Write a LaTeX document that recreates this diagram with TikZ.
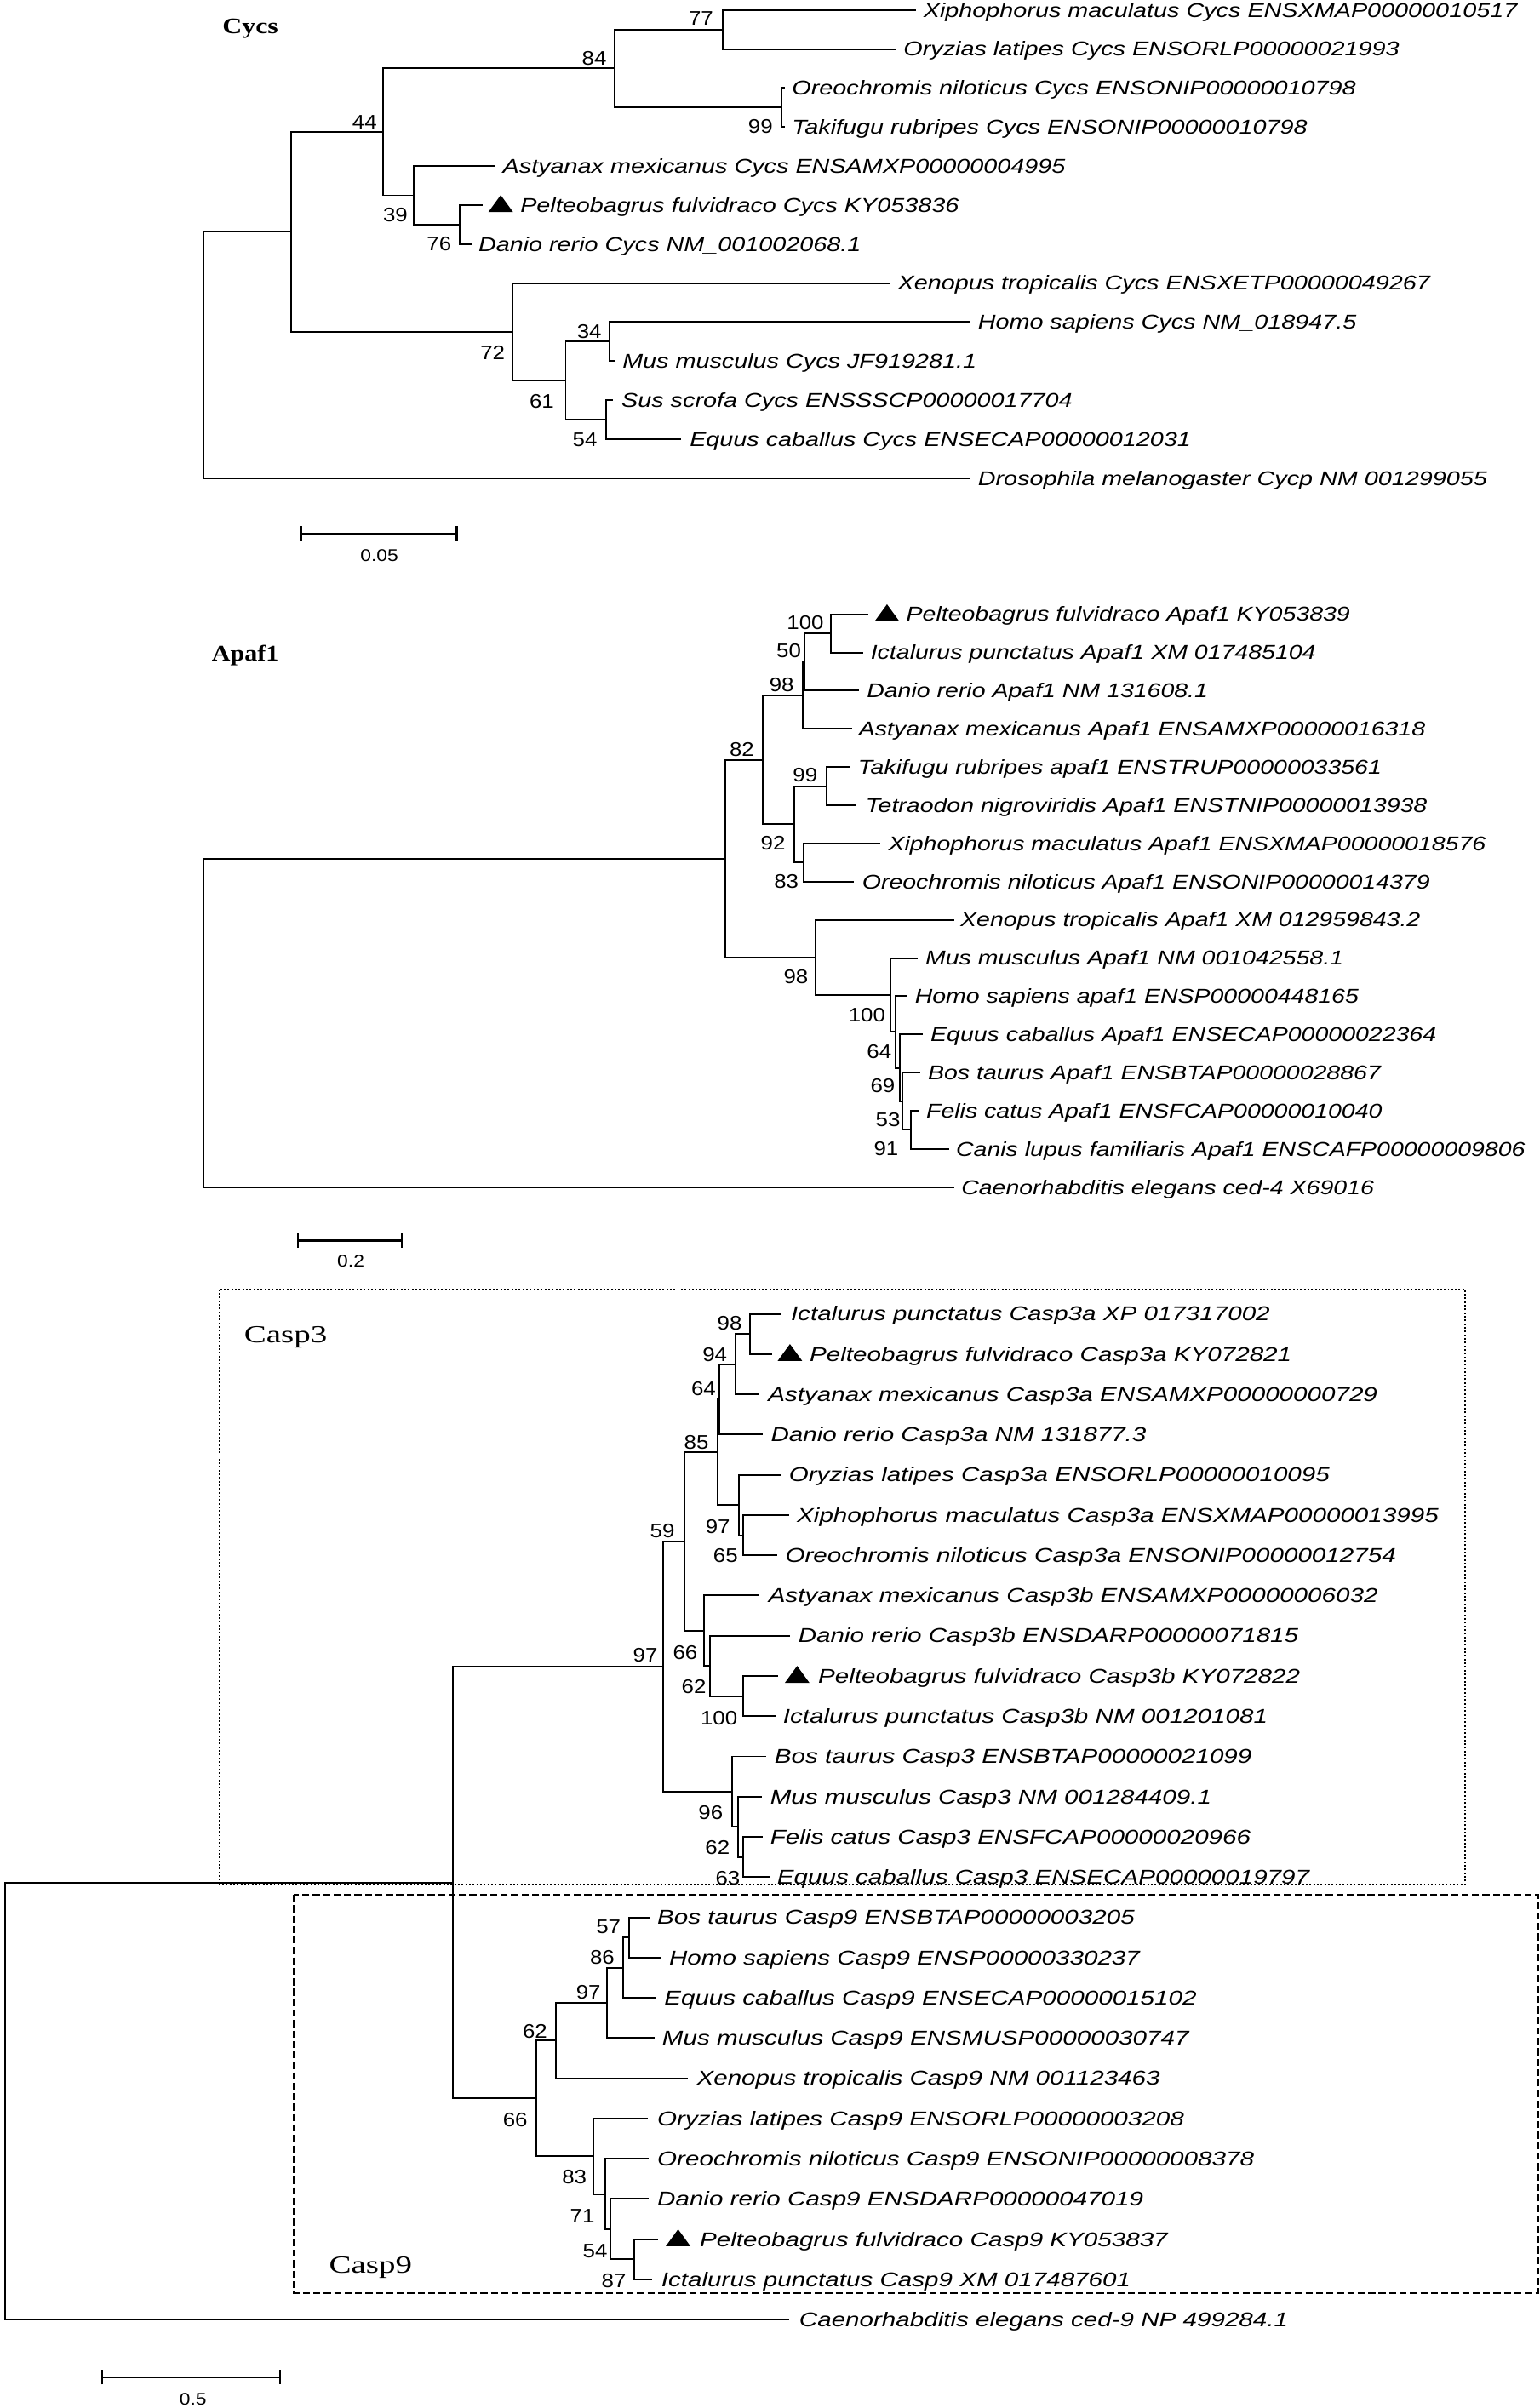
\documentclass[tikz,border=0pt]{standalone}
\usepackage{fontspec}
\usepackage{graphicx}
\usetikzlibrary{arrows.meta}
\setmainfont{Liberation Serif}
\newfontfamily\sansf{Liberation Sans}
\newfontfamily\serff{Liberation Serif}
\newcommand\lfs{1.227}
\newcommand\LF[1]{\scalebox{\lfs}[1]{#1}}
\newcommand\BS[1]{\scalebox{1.12}[1]{#1}}
\newcommand\tipleaf[5]{\coordinate (#1) at (#2,#3);\node[lf] (#1t) at (#4-0.5,#3+4.6) {\LF{#5}};}
\newcommand\trileaf[6]{\coordinate (#1) at (#2,#3);\fill (#4,#3+4.5) -- ++(16,0) -- ++(-8,-11) -- cycle;\node[lf] (#1t) at (#5-0.5,#3+4.6) {\LF{#6}};}
\newcommand\bsl[4]{\node[bsn] (#1) at (#2+0.6,#3+4.6) {\BS{#4}};}
\tikzset{
  br/.style={line width=1.1pt, line join=miter, line cap=rect},
  lf/.style={anchor=base west, inner sep=0pt, font=\sansf\itshape\fontsize{13}{15}\selectfont},
  bsn/.style={anchor=base east, inner sep=0pt, font=\sansf\fontsize{12.8}{15}\selectfont},
  ttl/.style={anchor=base west, inner sep=0pt, font=\serff\bfseries\fontsize{14.5}{16}\selectfont},
  grp/.style={anchor=base west, inner sep=0pt, font=\serff\fontsize{16}{18}\selectfont},
  sbar/.style={line width=1.2pt, arrows={Bar[width=9.4pt]-Bar[width=9.4pt]}},
  sbl/.style={anchor=base, inner sep=0pt, font=\sansf\fontsize{11}{13}\selectfont},
  dotbox/.style={line width=1.1pt, dash pattern=on 1.1pt off 1.3pt},
  dashbox/.style={line width=1.1pt, dash pattern=on 4.6pt off 2.2pt}
}
\begin{document}
\begin{tikzpicture}[x=1pt,y=-1pt]
\useasboundingbox (0,0) rectangle (1002.6,1568);

%% ================= Cycs =================
\renewcommand\lfs{1.227}
\node[ttl] (tcycs) at (144.6,21.8) {\scalebox{1.22}[1]{Cycs}};
\coordinate (cR) at (132.5,151.0);
\coordinate (cA) at (189.6,151.0);
\coordinate (cB) at (249.5,85.9);
\coordinate (cC) at (400.2,44.6);
\coordinate (cD) at (470.4,19.2);
\coordinate (cE) at (508.6,70.03);
\coordinate (cF) at (269.5,127.2);
\coordinate (cG) at (299.2,146.26);
\coordinate (cH) at (333.5,216.13);
\coordinate (cI) at (368.3,247.9);
\coordinate (cJ) at (396.9,222.49);
\coordinate (cK) at (394.5,273.3);
\tipleaf{cl0}{596}{6.5}{601.6}{Xiphophorus maculatus Cycs ENSXMAP00000010517}
\tipleaf{cl1}{583}{31.91}{588.6}{Oryzias latipes Cycs ENSORLP00000021993}
\tipleaf{cl2}{510.5}{57.32}{516}{Oreochromis niloticus Cycs ENSONIP00000010798}
\tipleaf{cl3}{510.5}{82.73}{516}{Takifugu rubripes Cycs ENSONIP00000010798}
\tipleaf{cl4}{322.0}{108.14}{327.7}{Astyanax mexicanus Cycs ENSAMXP00000004995}
\trileaf{cl5}{313.5}{133.55}{318}{339.1}{Pelteobagrus fulvidraco Cycs KY053836}
\tipleaf{cl6}{306.6}{158.96}{311.8}{Danio rerio Cycs NM\_001002068.1}
\tipleaf{cl7}{579.3}{184.37}{584.8}{Xenopus tropicalis Cycs ENSXETP00000049267}
\tipleaf{cl8}{631.3}{209.78}{637.0}{Homo sapiens Cycs NM\_018947.5}
\tipleaf{cl9}{400}{235.19}{405.6}{Mus musculus Cycs JF919281.1}
\tipleaf{cl10}{398.5}{260.6}{405}{Sus scrofa Cycs ENSSSCP00000017704}
\tipleaf{cl11}{443.1}{286.01}{449.4}{Equus caballus Cycs ENSECAP00000012031}
\tipleaf{cl12}{631.3}{311.42}{637.0}{Drosophila melanogaster Cycp NM 001299055}
\draw[br] (cR) |- (cA) (cR) |- (cl12)
  (cA) |- (cB) (cA) |- (cH)
  (cB) |- (cC) (cB) |- (cF)
  (cC) |- (cD) (cC) |- (cE)
  (cD) |- (cl0) (cD) |- (cl1)
  (cE) |- (cl2) (cE) |- (cl3)
  (cF) |- (cl4) (cF) |- (cG)
  (cG) |- (cl5) (cG) |- (cl6)
  (cH) |- (cl7) (cH) |- (cI)
  (cI) |- (cJ) (cI) |- (cK)
  (cJ) |- (cl8) (cJ) |- (cl9)
  (cK) |- (cl10) (cK) |- (cl11);
\bsl{cb77}{464}{12.0}{77}
\bsl{cb84}{394.5}{37.9}{84}
\bsl{cb44}{245.0}{79.5}{44}
\bsl{cb99}{502.7}{82.2}{99}
\bsl{cb39}{265.0}{140.0}{39}
\bsl{cb76}{293.5}{158.9}{76}
\bsl{cb72}{328.3}{229.4}{72}
\bsl{cb34}{391.2}{215.8}{34}
\bsl{cb61}{360.3}{261.0}{61}
\bsl{cb54}{388.4}{286.2}{54}
\coordinate (sc1a) at (195.3,347.4);
\coordinate (sc1b) at (298.0,347.4);
\draw[sbar] (sc1a) -- (sc1b);
\node[sbl] (sc1t) at (247,365.4) {\scalebox{1.15}[1]{0.05}};

%% ================= Apaf1 =================
\renewcommand\lfs{1.215}
\node[ttl] (tapaf) at (137.8,430.5) {\scalebox{1.15}[1]{Apaf1}};
\coordinate (aRt) at (132.5,559.13);
\coordinate (aR) at (472.1,559.13);
\coordinate (a82) at (496.7,494.82);
\coordinate (aY) at (522.4,452.85);
\coordinate (aX) at (523.5,431.09);
\coordinate (aP) at (541.0,412.44);
\coordinate (aS) at (517.0,536.79);
\coordinate (aQ) at (538.1,511.92);
\coordinate (aT) at (523.3,561.66);
\coordinate (aU) at (530.9,623.44);
\coordinate (aV) at (580.0,647.92);
\coordinate (aN1) at (582.8,672.01);
\coordinate (aN2) at (585.7,695.33);
\coordinate (aN3) at (587.4,717.09);
\coordinate (aN4) at (593.1,735.75);
\trileaf{al0}{565.0}{400.0}{569.5}{590.4}{Pelteobagrus fulvidraco Apaf1 KY053839}
\tipleaf{al1}{561.3}{424.87}{567.2}{Ictalurus punctatus Apaf1 XM 017485104}
\tipleaf{al2}{558.5}{449.74}{564.7}{Danio rerio Apaf1 NM 131608.1}
\tipleaf{al3}{554.0}{474.61}{559.5}{Astyanax mexicanus Apaf1 ENSAMXP00000016318}
\tipleaf{al4}{552.5}{499.48}{558.9}{Takifugu rubripes apaf1 ENSTRUP00000033561}
\tipleaf{al5}{557.1}{524.35}{563.9}{Tetraodon nigroviridis Apaf1 ENSTNIP00000013938}
\tipleaf{al6}{572.8}{549.22}{578.7}{Xiphophorus maculatus Apaf1 ENSXMAP00000018576}
\tipleaf{al7}{555.5}{574.09}{561.7}{Oreochromis niloticus Apaf1 ENSONIP00000014379}
\tipleaf{al8}{620.5}{598.96}{625.6}{Xenopus tropicalis Apaf1 XM 012959843.2}
\tipleaf{al9}{597.1}{623.83}{602.8}{Mus musculus Apaf1 NM 001042558.1}
\tipleaf{al10}{590.3}{648.70}{596.0}{Homo sapiens apaf1 ENSP00000448165}
\tipleaf{al11}{600.5}{673.57}{606.2}{Equus caballus Apaf1 ENSECAP00000022364}
\tipleaf{al12}{598.5}{698.44}{604.5}{Bos taurus Apaf1 ENSBTAP00000028867}
\tipleaf{al13}{597.5}{723.31}{603.4}{Felis catus Apaf1 ENSFCAP00000010040}
\tipleaf{al14}{617.6}{748.18}{622.8}{Canis lupus familiaris Apaf1 ENSCAFP00000009806}
\tipleaf{al15}{620.5}{773.05}{626.2}{Caenorhabditis elegans ced-4 X69016}
\draw[br] (aRt) |- (aR) (aRt) |- (al15)
  (aR) |- (a82) (aR) |- (aU)
  (a82) |- (aY) (a82) |- (aS)
  (aY) |- (aX) (aY) |- (al3)
  (aX) |- (aP) (aX) |- (al2)
  (aP) |- (al0) (aP) |- (al1)
  (aS) |- (aQ) (aS) |- (aT)
  (aQ) |- (al4) (aQ) |- (al5)
  (aT) |- (al6) (aT) |- (al7)
  (aU) |- (al8) (aU) |- (aV)
  (aV) |- (al9) (aV) |- (aN1)
  (aN1) |- (al10) (aN1) |- (aN2)
  (aN2) |- (al11) (aN2) |- (aN3)
  (aN3) |- (al12) (aN3) |- (aN4)
  (aN4) |- (al13) (aN4) |- (al14);
\bsl{ab100}{535.9}{405}{100}
\bsl{ab50}{521.1}{423.7}{50}
\bsl{ab98}{516.5}{445.5}{98}
\bsl{ab82}{490.6}{488}{82}
\bsl{ab99}{531.8}{504.4}{99}
\bsl{ab92}{510.9}{549}{92}
\bsl{ab83}{519.5}{574}{83}
\bsl{ab98b}{525.8}{636}{98}
\bsl{ab100b}{576.0}{661}{100}
\bsl{ab64}{580.0}{684.5}{64}
\bsl{ab69}{582.3}{707}{69}
\bsl{ab53}{585.7}{729}{53}
\bsl{ab91}{584.5}{748}{91}
\coordinate (sc2a) at (193.6,807.8);
\coordinate (sc2b) at (262.1,807.8);
\draw[sbar] (sc2a) -- (sc2b);
\node[sbl] (sc2t) at (228.4,825.2) {\scalebox{1.15}[1]{0.2}};

%% ================= Casp3 / Casp9 =================
\renewcommand\lfs{1.262}
\draw[dotbox] (143.2,839.5) rectangle (954,1226.9);
\draw[dashbox] (191.2,1233.8) rectangle (1001.3,1493);
\node[grp] (tc3) at (158.8,874.4) {\scalebox{1.35}[1]{Casp3}};
\node[grp] (tc9) at (214.1,1480.4) {\scalebox{1.35}[1]{Casp9}};
\coordinate (kRt) at (3.2,1225.79);
\coordinate (kC) at (294.8,1225.79);
\coordinate (k97) at (431.6,1085.17);
\coordinate (k59) at (445.7,1003.7);
\coordinate (k85) at (467.1,945.56);
\coordinate (k64) at (468.4,911.18);
\coordinate (k94) at (479.1,888.25);
\coordinate (k98) at (488.4,868.6);
\coordinate (k97a) at (481.0,979.95);
\coordinate (k65) at (483.7,999.6);
\coordinate (k66b) at (458.3,1061.83);
\coordinate (k62b) at (462.0,1084.75);
\coordinate (k100b) at (484.1,1104.4);
\coordinate (k96) at (476.9,1166.63);
\coordinate (kB3) at (480.3,1189.55);
\coordinate (kC3) at (484.1,1209.2);
\coordinate (k66c) at (349.2,1366.4);
\coordinate (k62c) at (362.0,1328.74);
\coordinate (k97c) at (395.4,1304.18);
\coordinate (k86) at (405.6,1281.25);
\coordinate (k57) at (409.6,1261.6);
\coordinate (k83) at (386.4,1404.06);
\coordinate (kA9) at (394.0,1428.63);
\coordinate (kB9) at (397.2,1451.55);
\coordinate (kC9) at (413.0,1471.2);
\tipleaf{k0}{508.1}{855.5}{515.2}{Ictalurus punctatus Casp3a XP 017317002}
\trileaf{k1}{502.0}{881.7}{506.3}{527.5}{Pelteobagrus fulvidraco Casp3a KY072821}
\tipleaf{k2}{494.0}{907.9}{500.4}{Astyanax mexicanus Casp3a ENSAMXP00000000729}
\tipleaf{k3}{496.0}{934.1}{502.2}{Danio rerio Casp3a NM 131877.3}
\tipleaf{k4}{507.5}{960.3}{514.0}{Oryzias latipes Casp3a ENSORLP00000010095}
\tipleaf{k5}{513.0}{986.5}{519.2}{Xiphophorus maculatus Casp3a ENSXMAP00000013995}
\tipleaf{k6}{505.5}{1012.7}{511.6}{Oreochromis niloticus Casp3a ENSONIP00000012754}
\tipleaf{k7}{493.5}{1038.9}{500.7}{Astyanax mexicanus Casp3b ENSAMXP00000006032}
\tipleaf{k8}{514.0}{1065.1}{520.1}{Danio rerio Casp3b ENSDARP00000071815}
\trileaf{k9}{506.3}{1091.3}{511.0}{533.0}{Pelteobagrus fulvidraco Casp3b KY072822}
\tipleaf{k10}{504.2}{1117.5}{510.1}{Ictalurus punctatus Casp3b NM 001201081}
\tipleaf{k11}{498.0}{1143.7}{504.6}{Bos taurus Casp3 ENSBTAP00000021099}
\tipleaf{k12}{495.5}{1169.9}{501.8}{Mus musculus Casp3 NM 001284409.1}
\tipleaf{k13}{496.0}{1196.1}{501.8}{Felis catus Casp3 ENSFCAP00000020966}
\tipleaf{k14}{500.5}{1222.3}{506.3}{Equus caballus Casp3 ENSECAP00000019797}
\tipleaf{k15}{423.0}{1248.5}{428.3}{Bos taurus Casp9 ENSBTAP00000003205}
\tipleaf{k16}{429.5}{1274.7}{436.0}{Homo sapiens Casp9 ENSP00000330237}
\tipleaf{k17}{426.5}{1300.9}{432.8}{Equus caballus Casp9 ENSECAP00000015102}
\tipleaf{k18}{425.5}{1327.1}{431.5}{Mus musculus Casp9 ENSMUSP00000030747}
\tipleaf{k19}{447.3}{1353.3}{454.0}{Xenopus tropicalis Casp9 NM 001123463}
\tipleaf{k20}{421.0}{1379.5}{428.3}{Oryzias latipes Casp9 ENSORLP00000003208}
\tipleaf{k21}{421.7}{1405.7}{428.3}{Oreochromis niloticus Casp9 ENSONIP00000008378}
\tipleaf{k22}{421.7}{1431.9}{428.3}{Danio rerio Casp9 ENSDARP00000047019}
\trileaf{k23}{428.1}{1458.1}{433.5}{456.0}{Pelteobagrus fulvidraco Casp9 KY053837}
\tipleaf{k24}{424.0}{1484.3}{430.9}{Ictalurus punctatus Casp9 XM 017487601}
\tipleaf{k25}{513.0}{1510.5}{520.7}{Caenorhabditis elegans ced-9 NP 499284.1}
\draw[br] (kRt) |- (kC) (kRt) |- (k25)
  (kC) |- (k97) (kC) |- (k66c)
  (k97) |- (k59) (k97) |- (k96)
  (k59) |- (k85) (k59) |- (k66b)
  (k85) |- (k64) (k85) |- (k97a)
  (k64) |- (k94) (k64) |- (k3)
  (k94) |- (k98) (k94) |- (k2)
  (k98) |- (k0) (k98) |- (k1)
  (k97a) |- (k4) (k97a) |- (k65)
  (k65) |- (k5) (k65) |- (k6)
  (k66b) |- (k7) (k66b) |- (k62b)
  (k62b) |- (k8) (k62b) |- (k100b)
  (k100b) |- (k9) (k100b) |- (k10)
  (k96) |- (k11) (k96) |- (kB3)
  (kB3) |- (k12) (kB3) |- (kC3)
  (kC3) |- (k13) (kC3) |- (k14)
  (k66c) |- (k62c) (k66c) |- (k83)
  (k62c) |- (k97c) (k62c) |- (k19)
  (k97c) |- (k86) (k97c) |- (k18)
  (k86) |- (k57) (k86) |- (k17)
  (k57) |- (k15) (k57) |- (k16)
  (k83) |- (k20) (k83) |- (kA9)
  (kA9) |- (k21) (kA9) |- (kB9)
  (kB9) |- (k22) (kB9) |- (kC9)
  (kC9) |- (k23) (kC9) |- (k24);
\bsl{kb98}{482.6}{861.6}{98}
\bsl{kb94}{473.0}{881.9}{94}
\bsl{kb64}{465.6}{904}{64}
\bsl{kb85}{461.0}{939.1}{85}
\bsl{kb97a}{474.9}{993.7}{97}
\bsl{kb65}{480.0}{1012.6}{65}
\bsl{kb59}{438.8}{996.8}{59}
\bsl{kb66b}{453.7}{1075.9}{66}
\bsl{kb62b}{459.3}{1098}{62}
\bsl{kb100b}{479.7}{1118.4}{100}
\bsl{kb97}{427.7}{1077.7}{97}
\bsl{kb96}{470.3}{1180.3}{96}
\bsl{kb62d}{474.7}{1203}{62}
\bsl{kb63}{481.4}{1222.8}{63}
\bsl{kb57}{403.7}{1254.6}{57}
\bsl{kb86}{399.7}{1274.5}{86}
\bsl{kb97c}{390.7}{1297}{97}
\bsl{kb62c}{355.9}{1322.5}{62}
\bsl{kb66c}{343.0}{1380.3}{66}
\bsl{kb83}{381.5}{1417.2}{83}
\bsl{kb71}{386.7}{1442.6}{71}
\bsl{kb54}{395.0}{1465.8}{54}
\bsl{kb87}{407.2}{1485.2}{87}
\coordinate (sc3a) at (66.1,1547.9);
\coordinate (sc3b) at (182.9,1547.9);
\draw[sbar] (sc3a) -- (sc3b);
\node[sbl] (sc3t) at (125.7,1566.2) {\scalebox{1.15}[1]{0.5}};
\end{tikzpicture}
\end{document}
